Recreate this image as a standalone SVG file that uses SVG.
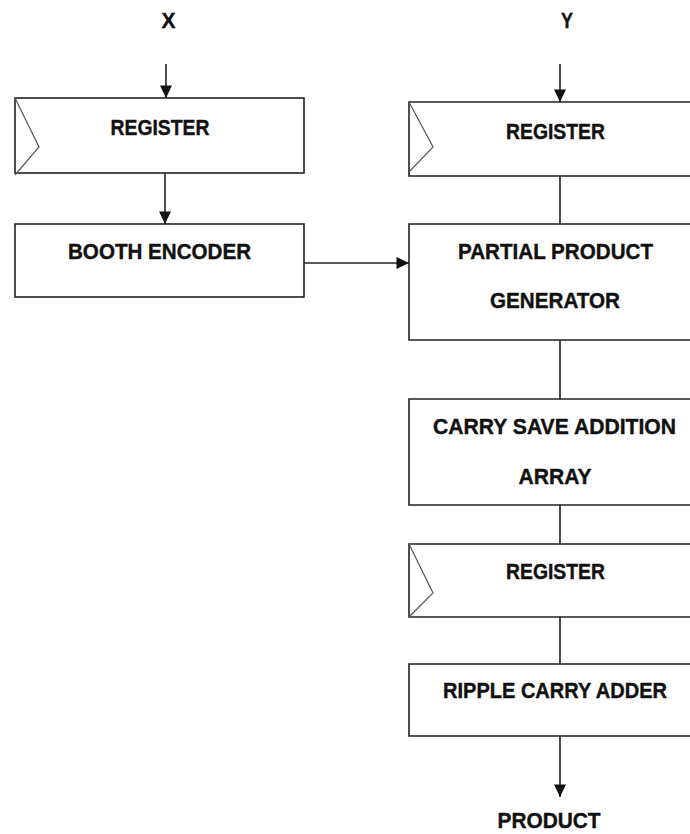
<svg xmlns="http://www.w3.org/2000/svg" width="690" height="834" viewBox="0 0 690 834">
<style>
.box{fill:#fff;stroke:#222;stroke-width:1.6}
.chev{fill:none;stroke:#555;stroke-width:1.2}
.lbl{font-family:"Liberation Sans",Arial,sans-serif;font-weight:bold;font-size:22px;fill:#111;text-anchor:middle;stroke:#111;stroke-width:0.4}
.wire{fill:none;stroke:#222;stroke-width:1.6}
</style>
<defs>
<marker id="ah" markerUnits="userSpaceOnUse" markerWidth="14" markerHeight="14" viewBox="0 0 14 14" refX="13" refY="7" orient="auto">
<path d="M0.5,1 L13,7 L0.5,13 Z" fill="#111"/>
</marker>
</defs>
<g id="labelX"><text class="lbl" x="168.5" y="28" textLength="14" lengthAdjust="spacingAndGlyphs">X</text></g>
<g id="labelY"><text class="lbl" x="567" y="28" textLength="12" lengthAdjust="spacingAndGlyphs">Y</text></g>
<g id="regX">
<rect class="box" x="15" y="98" width="289" height="75"/>
<polyline class="chev" points="15,98 39,147 15,175"/>
<text class="lbl" x="160" y="135" textLength="99" lengthAdjust="spacingAndGlyphs">REGISTER</text>
</g>
<g id="booth">
<rect class="box" x="15" y="224" width="289" height="73"/>
<text class="lbl" x="159.5" y="259" textLength="183" lengthAdjust="spacingAndGlyphs">BOOTH ENCODER</text>
</g>
<g id="regY">
<path class="box" d="M690,102 H409 V176 H690"/>
<polyline class="chev" points="409,102 433,147 409,172"/>
<text class="lbl" x="555.5" y="138.5" textLength="99" lengthAdjust="spacingAndGlyphs">REGISTER</text>
</g>
<g id="ppg">
<path class="box" d="M690,224 H409 V340 H690"/>
<text class="lbl" x="555.5" y="259" textLength="195" lengthAdjust="spacingAndGlyphs">PARTIAL PRODUCT</text>
<text class="lbl" x="555" y="308" textLength="130" lengthAdjust="spacingAndGlyphs">GENERATOR</text>
</g>
<g id="csa">
<path class="box" d="M690,399 H409 V505 H690"/>
<text class="lbl" x="554.5" y="434" textLength="243" lengthAdjust="spacingAndGlyphs">CARRY SAVE ADDITION</text>
<text class="lbl" x="555" y="483.5" textLength="73" lengthAdjust="spacingAndGlyphs">ARRAY</text>
</g>
<g id="regP">
<path class="box" d="M690,544 H409 V617 H690"/>
<polyline class="chev" points="409,544 433,593 409,617"/>
<text class="lbl" x="555.5" y="578.5" textLength="99" lengthAdjust="spacingAndGlyphs">REGISTER</text>
</g>
<g id="rca">
<path class="box" d="M690,664 H409 V736 H690"/>
<text class="lbl" x="555" y="698" textLength="224" lengthAdjust="spacingAndGlyphs">RIPPLE CARRY ADDER</text>
</g>
<g id="labelProduct"><text class="lbl" x="549" y="828" textLength="103" lengthAdjust="spacingAndGlyphs">PRODUCT</text></g>
<g id="connectors">
<line class="wire" x1="166" y1="64" x2="166" y2="98" marker-end="url(#ah)"/>
<line class="wire" x1="560" y1="64" x2="560" y2="102" marker-end="url(#ah)"/>
<line class="wire" x1="165" y1="173" x2="165" y2="224" marker-end="url(#ah)"/>
<line class="wire" x1="304" y1="263" x2="409" y2="263" marker-end="url(#ah)"/>
<line class="wire" x1="560" y1="176" x2="560" y2="224"/>
<line class="wire" x1="560" y1="340" x2="560" y2="399"/>
<line class="wire" x1="560" y1="505" x2="560" y2="544"/>
<line class="wire" x1="560" y1="617" x2="560" y2="664"/>
<line class="wire" x1="560" y1="736" x2="560" y2="797" marker-end="url(#ah)"/>
</g>
</svg>
